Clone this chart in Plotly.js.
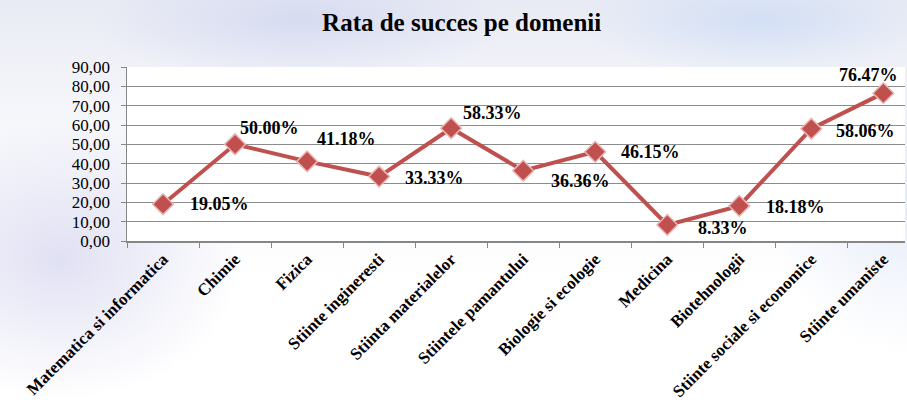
<!DOCTYPE html>
<html>
<head>
<meta charset="utf-8">
<script src="https://cdn.plot.ly/plotly-3.0.1.min.js"></script>
<style>
  html, body { margin: 0; padding: 0; }
  body {
    width: 907px; height: 405px; overflow: hidden;
    background:
      radial-gradient(ellipse 260px 200px at 60px 260px, rgba(200,200,235,0.55), rgba(255,255,255,0) 70%),
      radial-gradient(ellipse 300px 90px at 300px 20px, rgba(210,215,240,0.8), rgba(255,255,255,0) 70%),
      radial-gradient(ellipse 260px 80px at 760px 20px, rgba(205,220,245,0.8), rgba(255,255,255,0) 70%),
      radial-gradient(ellipse 200px 220px at 907px 200px, rgba(215,225,245,0.6), rgba(255,255,255,0) 70%),
      linear-gradient(180deg, #e9ebf4 0%, #f6f7fb 30%, #ffffff 70%);
  }
  #chart { width: 907px; height: 405px; }
</style>
</head>
<body>
<div id="chart"></div>
<script>
const categories = [
  "Matematica si informatica", "Chimie", "Fizica", "Stiinte ingineresti",
  "Stiinta materialelor", "Stiintele pamantului", "Biologie si ecologie",
  "Medicina", "Biotehnologii", "Stiinte sociale si economice", "Stiinte umaniste"
];
const values = [19.05, 50.00, 41.18, 33.33, 58.33, 36.36, 46.15, 8.33, 18.18, 58.06, 76.47];
const labels = ["19.05%", "50.00%", "41.18%", "33.33%", "58.33%", "36.36%", "46.15%", "8.33%", "18.18%", "58.06%", "76.47%"];
const yTickVals = [0, 10, 20, 30, 40, 50, 60, 70, 80, 90];
const yTickText = ["0,00", "10,00", "20,00", "30,00", "40,00", "50,00", "60,00", "70,00", "80,00", "90,00"];

// label placement (style only): pixel offsets from each point
const labelDx = [25, 3, 8, 24, 10, 26, 24, 29, 25, 23, -15];
const labelDy = [0, 16, 22, -1, 15, -10, 0, -3, -1, -2, 18];
const labelAnchor = ["left","left","left","left","left","left","left","left","left","left","center"];

const red = "#C0504D";
const serif = "Liberation Serif";

const trace = {
  type: "scatter",
  mode: "lines+markers",
  x: categories,
  y: values,
  line: { color: red, width: 4 },
  marker: { symbol: "diamond", size: 16, color: red, line: { color: "#E8B8B6", width: 1.5 } },
  hoverinfo: "skip",
  cliponaxis: false
};

const annotations = categories.map((c, i) => ({
  x: c, y: values[i], xref: "x", yref: "y",
  text: "<b>" + labels[i] + "</b>", showarrow: false,
  xanchor: labelAnchor[i], yanchor: "middle",
  xshift: labelDx[i], yshift: labelDy[i],
  font: { family: serif, size: 18, color: "#000000" }
}));

const layout = {
  width: 907, height: 405,
  margin: { l: 127, r: 2, t: 67, b: 164 },
  paper_bgcolor: "rgba(0,0,0,0)",
  plot_bgcolor: "#ffffff",
  showlegend: false,
  title: {
    text: "<b>Rata de succes pe domenii</b>",
    font: { family: serif, size: 25, color: "#000000" },
    x: 0.509, xanchor: "center", y: 0.945, yanchor: "middle"
  },
  xaxis: {
    type: "category",
    range: [-0.5, 10.3],
    tickson: "boundaries",
    tickmode: "array",
    tickvals: categories,
    ticktext: categories.map(c => "<b>" + c + "</b>"),
    ticks: "outside", ticklen: 5, tickcolor: "#868686",
    showgrid: false, zeroline: false,
    showline: true, linecolor: "#868686", linewidth: 1.5,
    tickangle: -45,
    tickfont: { family: serif, size: 17, color: "#000000" },
    fixedrange: true
  },
  yaxis: {
    range: [0, 90],
    tickmode: "array",
    tickvals: yTickVals,
    ticktext: yTickText,
    ticks: "outside", ticklen: 5, tickcolor: "#868686",
    showgrid: true, gridcolor: "#8c8c8c", gridwidth: 1,
    zeroline: false,
    showline: true, linecolor: "#868686", linewidth: 1.5,
    tickfont: { family: serif, size: 17, color: "#000000" },
    ticklabelstandoff: 7,
    fixedrange: true
  },
  annotations: annotations
};

Plotly.newPlot("chart", [trace], layout, { displayModeBar: false, staticPlot: true });
</script>
</body>
</html>
